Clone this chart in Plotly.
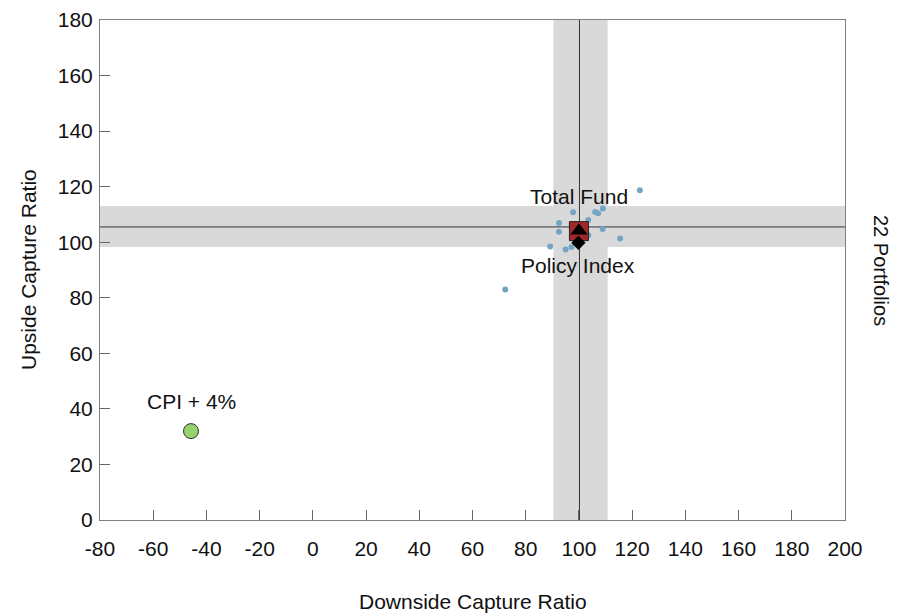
import plotly.graph_objects as go

# Universe portfolios (downside capture, upside capture)
port_down = [122.9, 97.8, 106.1, 107.2, 109.0, 103.5, 92.5, 92.5, 108.9, 115.5, 89.2, 95.0, 97.2, 72.3,
             103.5, 99.0, 101.0, 100.0, 102.0, 98.5, 101.0, 99.5]
port_up = [118.7, 110.8, 110.9, 110.4, 112.1, 108.0, 106.9, 103.8, 104.8, 101.3, 98.5, 97.4, 98.3, 83.0,
           102.5, 104.0, 106.0, 102.0, 104.0, 103.0, 101.0, 105.5]

total_fund = (100.0, 104.0)
total_fund_tri = (100.0, 104.1)
policy_index = (99.8, 99.8)
cpi = (-45.8, 32.0)

median_down = 100.2
median_up = 105.5
band_down = (90.4, 110.8)
band_up = (98.3, 113.0)

x_ticks = list(range(-80, 201, 20))
y_ticks = list(range(0, 181, 20))

font_family = "Liberation Sans, Arial, sans-serif"

fig = go.Figure()

fig.add_trace(go.Scatter(x=port_down, y=port_up, mode="markers",
                         marker=dict(color="#74a6c2", size=6, line=dict(width=0)),
                         name="Portfolios", hoverinfo="x+y"))
fig.add_trace(go.Scatter(x=[total_fund[0]], y=[total_fund[1]], mode="markers",
                         marker=dict(symbol="square", color="#a1282a", size=19,
                                     line=dict(color="#222222", width=1)),
                         name="Total Fund"))
fig.add_trace(go.Scatter(x=[total_fund_tri[0]], y=[total_fund_tri[1]], mode="markers",
                         marker=dict(symbol="triangle-up", color="#000000", size=15),
                         name="Total Fund (alt)"))
fig.add_trace(go.Scatter(x=[policy_index[0]], y=[policy_index[1]], mode="markers",
                         marker=dict(symbol="diamond", color="#000000", size=11),
                         name="Policy Index"))
fig.add_trace(go.Scatter(x=[cpi[0]], y=[cpi[1]], mode="markers",
                         marker=dict(symbol="circle", color="#95d36c", size=15,
                                     line=dict(color="#333333", width=1)),
                         name="CPI + 4%"))

shapes = [
    dict(type="rect", xref="x", yref="paper", x0=band_down[0], x1=band_down[1], y0=0, y1=1,
         fillcolor="#d9d9d9", line=dict(width=0), layer="below"),
    dict(type="rect", xref="paper", yref="y", x0=0, x1=1, y0=band_up[0], y1=band_up[1],
         fillcolor="#d9d9d9", line=dict(width=0), layer="below"),
    dict(type="line", xref="x", yref="paper", x0=median_down, x1=median_down, y0=0, y1=1,
         line=dict(color="#333333", width=1), layer="below"),
    dict(type="line", xref="paper", yref="y", x0=0, x1=1, y0=median_up, y1=median_up,
         line=dict(color="#333333", width=1), layer="below"),
]

label_font = dict(size=21, color="#111111", family=font_family)
annotations = [
    dict(x=total_fund[0], y=total_fund[1], xref="x", yref="y", text="Total Fund", showarrow=False,
         yshift=35, font=label_font),
    dict(x=policy_index[0], y=policy_index[1], xref="x", yref="y", text="Policy Index", showarrow=False,
         yshift=-23, font=label_font),
    dict(x=cpi[0], y=cpi[1], xref="x", yref="y", text="CPI + 4%", showarrow=False,
         yshift=30, font=label_font),
    dict(x=1.0, y=0.5, xref="paper", yref="paper", text="22 Portfolios", showarrow=False,
         textangle=90, xanchor="center", yanchor="middle", xshift=36,
         font=dict(size=20, color="#111111", family=font_family)),
    dict(x=0.5, y=0, xref="paper", yref="paper", text="Downside Capture Ratio", showarrow=False,
         xanchor="center", yanchor="middle", yshift=-81, font=label_font),
    dict(x=0, y=0.5, xref="paper", yref="paper", text="Upside Capture Ratio", showarrow=False,
         textangle=-90, xanchor="center", yanchor="middle", xshift=-72, font=label_font),
]

axis_common = dict(ticks="inside", ticklen=10, tickcolor="#666666", tickwidth=1,
                   showline=True, linecolor="#808080", linewidth=1, mirror=True,
                   showgrid=False, zeroline=False, automargin=False,
                   tickfont=dict(size=21, color="#111111", family=font_family))

# page body adds an 8px offset; margins compensate so the plot sits at 100..845 x 20..520
fig.update_layout(
    width=905, height=616,
    margin=dict(l=92, r=68, t=12, b=104, autoexpand=False),
    paper_bgcolor="white", plot_bgcolor="white",
    showlegend=False,
    shapes=shapes,
    annotations=annotations,
    font=dict(family=font_family, size=20, color="#111111"),
    xaxis=dict(range=[-80, 200], tickvals=x_ticks, ticktext=[str(v) for v in x_ticks],
               ticklabelstandoff=10, **axis_common),
    yaxis=dict(range=[0, 180], tickvals=y_ticks, ticktext=[str(v) for v in y_ticks],
               ticklabelstandoff=2, **axis_common),
)

fig.write_html("out.html")
